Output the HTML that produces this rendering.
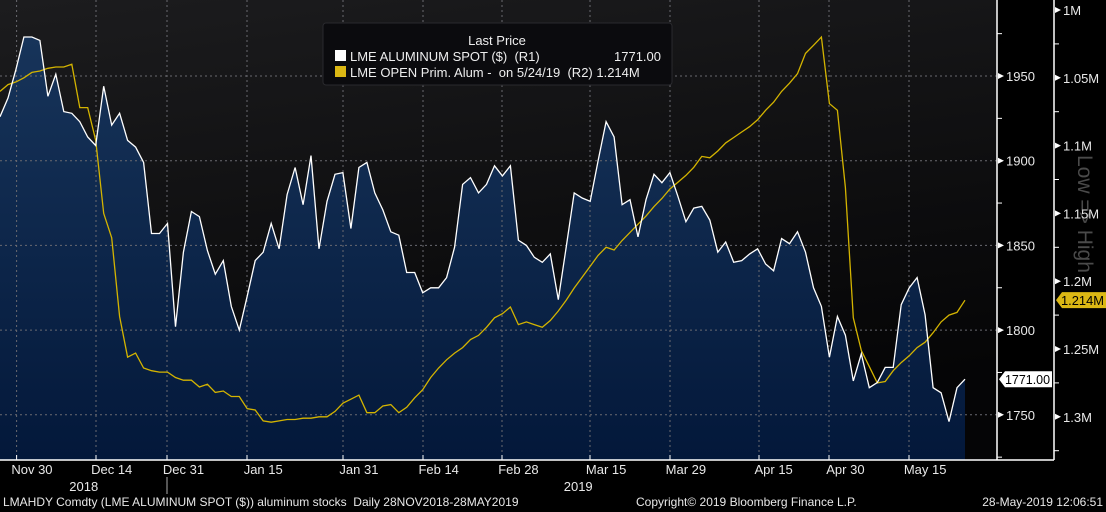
<!DOCTYPE html>
<html><head><meta charset="utf-8"><style>
html,body{margin:0;padding:0;background:#000;}
svg{display:block;font-family:"Liberation Sans",sans-serif;}
</style></head><body>
<svg id="c" width="1106" height="512" viewBox="0 0 1106 512" xmlns="http://www.w3.org/2000/svg">
<defs>
<linearGradient id="bg" x1="0" y1="0" x2="0.3" y2="1"><stop offset="0" stop-color="#1c1c1e"/><stop offset="1" stop-color="#050506"/></linearGradient>
<linearGradient id="ar" x1="0" y1="0" x2="0" y2="1"><stop offset="0" stop-color="#17345a"/><stop offset="1" stop-color="#03183a"/></linearGradient>
</defs>
<rect x="0" y="0" width="1106" height="512" fill="#000"/>
<rect x="0" y="0" width="997" height="460" fill="url(#bg)"/>
<g id="grid"></g>
<path id="area" fill="url(#ar)"/>
<g id="gridTop"></g>
<path id="yl" fill="none" stroke="#d4b400" stroke-width="1.3"/>
<path id="wl" fill="none" stroke="#ffffff" stroke-width="1.3"/>
<line x1="0" y1="460" x2="1054" y2="460" stroke="#fff" stroke-width="1.5"/>
<line x1="997" y1="0" x2="997" y2="460" stroke="#fff" stroke-width="1.5"/>
<line x1="1054" y1="0" x2="1054" y2="460" stroke="#fff" stroke-width="1.5"/>
<line x1="167" y1="477" x2="167" y2="494" stroke="#aaa" stroke-width="1"/>
<text x="1078" y="155" fill="#4a4a4a" font-size="21" transform="rotate(90 1078 155)">Low =&gt; High</text>
<g id="axes" fill="#e8e8e8" font-size="13"></g>
<g>
<path id="wtag" fill="#fff"/>
<text id="wtagt" fill="#000" font-size="12.5" x="1005" textLength="45" lengthAdjust="spacingAndGlyphs"></text>
</g>
<g>
<path id="ytag" fill="#dcb814"/>
<text id="ytagt" fill="#000" font-size="12.5" x="1061" textLength="43" lengthAdjust="spacingAndGlyphs"></text>
</g>
<g>
<rect x="323" y="23" width="349" height="62" rx="3" fill="#0b0b0e" stroke="#2a2a2e"/>
<text x="497" y="45" fill="#eee" font-size="13" text-anchor="middle">Last Price</text>
<rect x="335" y="50" width="11" height="11" fill="#fff"/>
<text x="350" y="61" fill="#eee" font-size="13" xml:space="preserve">LME ALUMINUM SPOT ($)  (R1)</text>
<text x="661" y="61" fill="#eee" font-size="13" text-anchor="end">1771.00</text>
<rect x="335" y="66" width="11" height="11" fill="#dcb814"/>
<text x="350" y="77" fill="#eee" font-size="13" xml:space="preserve">LME OPEN Prim. Alum -  on 5/24/19  (R2) 1.214M</text>
</g>
<text x="3" y="506" fill="#e8e8e8" font-size="12" xml:space="preserve">LMAHDY Comdty (LME ALUMINUM SPOT ($)) aluminum stocks  Daily 28NOV2018-28MAY2019</text>
<text x="636" y="506" fill="#e8e8e8" font-size="12">Copyright© 2019 Bloomberg Finance L.P.</text>
<text x="1103" y="506" fill="#e8e8e8" font-size="12" text-anchor="end">28-May-2019 12:06:51</text>
</svg>
<script>
const spot=[1926,1937,1954,1973,1973,1971,1938,1951,1929,1928,1923,1914,1909,1944,1921,1928,1912,1908,1899,1857,1857,1863,1802,1846,1870,1867,1847,1833,1841,1814,1800,1820,1841,1846,1863,1848,1880,1896,1874,1903,1848,1876,1892,1893,1860,1896,1899,1881,1871,1858,1856,1834,1834,1822,1825,1825,1831,1849,1886,1890,1881,1886,1897,1891,1897,1853,1850,1843,1840,1845,1818,1849,1881,1878,1876,1900,1923,1914,1874,1877,1855,1877,1892,1887,1893,1879,1864,1872,1873,1865,1846,1852,1840,1841,1845,1848,1839,1835,1854,1851,1858,1846,1825,1814,1784,1808,1797,1770,1786,1766,1769,1778,1778,1815,1825,1831,1809,1766,1763,1746,1766,1771];
const stocksK=[1060,1055,1053,1050,1046,1045,1043,1042,1042,1040,1072,1072,1096,1150,1168,1226,1256,1253,1264,1266,1267,1267,1271,1273,1273,1278,1276,1282,1281,1285,1285,1294,1295,1303,1304,1303,1302,1302,1301,1301,1300,1300,1296,1290,1287,1284,1297,1297,1292,1291,1297,1293,1286,1280,1271,1264,1258,1253,1249,1243,1240,1234,1227,1224,1219,1232,1230,1232,1234,1229,1222,1214,1205,1197,1189,1181,1175,1177,1170,1164,1158,1152,1145,1139,1132,1127,1122,1116,1108,1109,1104,1098,1094,1090,1086,1081,1074,1068,1060,1054,1047,1032,1026,1020,1069,1074,1131,1227,1251,1263,1275,1274,1266,1260,1255,1249,1245,1238,1230,1225,1223,1214];
const leftTicks=[1950,1900,1850,1800,1750];
const rightTicks=[1000,1050,1100,1150,1200,1250,1300];
const rightTickLabels=["1M","1.05M","1.1M","1.15M","1.2M","1.25M","1.3M"];
const dateLabels=["Nov 30","Dec 14","Dec 31","Jan 15","Jan 31","Feb 14","Feb 28","Mar 15","Mar 29","Apr 15","Apr 30","May 15"];
const dateIdx=[2,12,21,31,43,53,63,74,84,95,104,114];
const yearLabels=["2018","2019"];
const yearIdx=[10.5,72.5];

const NS="http://www.w3.org/2000/svg";
const N=spot.length;
const X=i=>i*965/(N-1);
const Y1=v=>76+(1950-v)*1.694;
const Y2=k=>10+(k-1000)/50*67.8;
function mk(tag,attrs,parent){const e=document.createElementNS(NS,tag);for(const k in attrs)e.setAttribute(k,attrs[k]);parent.appendChild(e);return e;}
const grid=document.getElementById('gridTop'),axes=document.getElementById('axes');
leftTicks.forEach(v=>{
  const y=Y1(v);
  const g=mk('line',{x1:0,x2:997,y1:y,y2:y,stroke:'#6a6a70','stroke-width':1,'stroke-dasharray':'2,3'},grid);
  
  
  const tr=mk('path',{d:`M998 ${y-3}L1004 ${y}L998 ${y+3}Z`,fill:'#fff'},axes);
  
  
  const t=mk('text',{x:1006,y:y+5},axes);t.textContent=v;
  
  
});
for(let v=1725;v<=1975;v+=50){const y=Y1(v);const m=mk('line',{x1:997,x2:1002,y1:y,y2:y,stroke:'#fff'},axes);
  
  }
rightTicks.forEach((k,i)=>{
  const y=Y2(k);
  const tr=mk('path',{d:`M1055 ${y-3}L1061 ${y}L1055 ${y+3}Z`,fill:'#fff'},axes);
  
  
  const t=mk('text',{x:1063,y:y+5},axes);t.textContent=rightTickLabels[i];
  
  
  const y2=Y2(k+25);
  const m=mk('line',{x1:1054,x2:1059,y1:y2,y2:y2,stroke:'#fff'},axes);
  
  
});
const gx=[16.6,96,167,247,343,423,502,590,670,759,829,909];
dateLabels.forEach((d,i)=>{
  const x=gx[i];
  const g=mk('line',{x1:x,x2:x,y1:0,y2:460,stroke:'#6a6a70','stroke-width':1,'stroke-dasharray':'2,3'},grid);
  
  
  const tk=mk('line',{x1:x,x2:x,y1:455,y2:460,stroke:'#fff'},axes);
  
  
  const t=mk('text',{x:X(dateIdx[i])+16,y:474,'text-anchor':'middle'},axes);t.textContent=d;
  
  
});
yearLabels.forEach((yl,i)=>{const t=mk('text',{x:X(yearIdx[i]),y:491,'text-anchor':'middle'},axes);t.textContent=yl;
  
  });
let d='';spot.forEach((v,i)=>{d+=(i?'L':'M')+X(i).toFixed(1)+' '+Y1(v).toFixed(1);});
document.getElementById('wl').setAttribute('d',d);
document.getElementById('area').setAttribute('d',d+`L${X(N-1)} 460L0 460Z`);
let d2='';stocksK.forEach((v,i)=>{d2+=(i?'L':'M')+X(i).toFixed(1)+' '+Y2(v).toFixed(1);});
document.getElementById('yl').setAttribute('d',d2);
const ly=Y1(spot[N-1]);
document.getElementById('wtag').setAttribute('d',`M999 ${ly}L1005 ${ly-8}L1052 ${ly-8}L1052 ${ly+8}L1005 ${ly+8}Z`);
const wt=document.getElementById('wtagt');wt.setAttribute('y',ly+5);wt.textContent=spot[N-1].toFixed(2);
const ry=Y2(stocksK[N-1]);
document.getElementById('ytag').setAttribute('d',`M1056 ${ry}L1062 ${ry-8}L1106 ${ry-8}L1106 ${ry+8}L1062 ${ry+8}Z`);
const yt=document.getElementById('ytagt');yt.setAttribute('y',ry+5);yt.textContent=(stocksK[N-1]/1000).toFixed(3)+'M';
</script>
</body></html>
